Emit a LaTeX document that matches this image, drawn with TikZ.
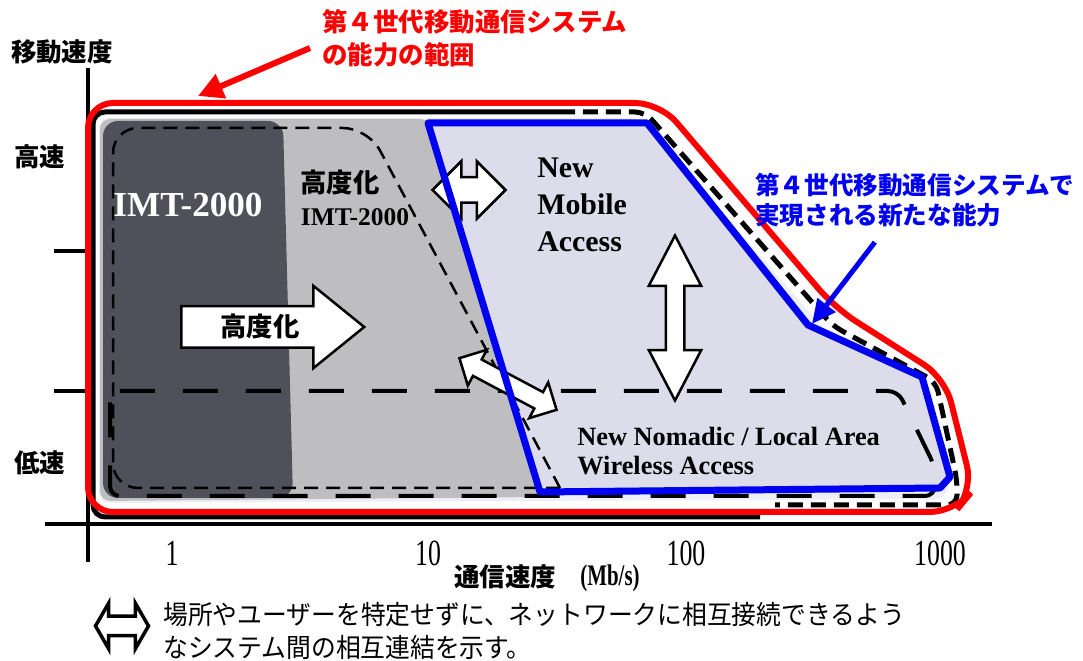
\documentclass[tikz,border=0pt]{standalone}
\usepackage{fontspec}
\setmainfont{Liberation Serif}
\newfontfamily\jp{Noto Sans CJK JP}
\newfontfamily\jpnarrow{Noto Sans CJK JP}[FakeStretch=0.94]
\newfontfamily\numfont{Liberation Serif}[FakeStretch=0.7]
\usetikzlibrary{arrows.meta,shapes.arrows,positioning,calc}
\definecolor{fgred}{RGB}{255,0,0}
\definecolor{fgblue}{RGB}{0,0,240}
\definecolor{paleback}{RGB}{238,238,246}
\definecolor{lavender}{RGB}{221,220,234}
\definecolor{midgray}{RGB}{190,190,192}
\definecolor{darkblock}{RGB}{80,80,90}

\tikzset{
  axisline/.style={line width=0.08cm},
  jptext/.style={font=\jp\bfseries\fontsize{14.5}{18.7}\selectfont, inner sep=0pt, align=left},
  sertext/.style={font=\bfseries\fontsize{17}{21}\selectfont, inner sep=0pt, align=left},
  numtext/.style={font=\numfont\fontsize{21}{24}\selectfont, inner sep=0pt},
  blockarrow/.style={draw, fill=white, line width=0.05cm, inner sep=0pt},
  outline/.style={line width=0.1cm},
  outdash/.style={line width=0.1cm, dash pattern=on 0.3cm off 0.16cm},
  nomdash/.style={line width=0.08cm, dash pattern=on 0.7cm off 0.56cm},
  imtdash/.style={line width=0.05cm, dash pattern=on 0.28cm off 0.16cm},
  redline/.style={fgred, line width=0.12cm},
  blueline/.style={fgblue, line width=0.14cm, line join=round},
}

\begin{document}
\begin{tikzpicture}[x=0.02cm, y=-0.02cm]
\useasboundingbox (0,0) rectangle (1083,661);

% backgrounds of the regions
\fill[paleback, rounded corners=0.2cm] (99,118) -- (640,118) -- (825,330) -- (930,385) -- (950,480) -- (945,499) -- (99,503) -- cycle;
\fill[midgray, rounded corners=0.2cm] (100,119) -- (430,119) -- (545,497) -- (100,501) -- cycle;
\fill[lavender] (428,123) -- (647,123) -- (808,325) -- (922,377) -- (950,477) -- (940,488) -- (540,492) -- cycle;
\fill[darkblock, rounded corners=0.3cm] (103,121) -- (283,121) -- (293,498) -- (103,498) -- cycle;

% axes
\draw[axisline] (88,68) -- (88,562);
\draw[axisline] (45,524) -- (992,524);
\draw[axisline] (54,251) -- (88,251);
\draw[axisline] (54,391) -- (88,391);

% dashed regions
\draw[imtdash, rounded corners=0.5cm] (560,488) -- (113,488) -- (113,128) -- (368,128) -- (560,488);
\draw[nomdash, rounded corners=0.2cm] (110,391) -- (898,391) -- (935,467) -- (935,496) -- (110,496) -- cycle;

% block arrows
\node[blockarrow, single arrow, single arrow head extend=0.41cm, single arrow tip angle=78,
  minimum height=3.66cm, text height=0.58cm, text depth=0.2cm, anchor=tail,
  font=\jp\bfseries\fontsize{15}{18}\selectfont] (advarrow) at (180,327) {高度化};
\node[blockarrow, double arrow, double arrow head extend=0.32cm,
  minimum height=1.46cm, text height=0.23cm, text depth=0.23cm] (hlink) at (469,190) {};
\node[blockarrow, double arrow, double arrow head extend=0.34cm, double arrow tip angle=55,
  minimum height=3.3cm, text height=0.16cm, text depth=0.16cm, rotate=90] (vlink) at (675,318) {};
\node[blockarrow, double arrow, double arrow head extend=0.22cm,
  minimum height=2.2cm, text height=0.16cm, text depth=0.16cm, rotate=-28] (dlink) at (508,384) {};

% outer outline and new capability
\draw[outline, rounded corners=0.24cm] (560,112) -- (93,112) -- (93,517) -- (760,517);
\draw[outdash, rounded corners=0.2cm] (560,112) -- (645,112) -- (833,326) -- (936,382) -- (957,480) -- (957,505) -- (775,505);
\draw[blueline] (428,123) -- (647,123) -- (808,325) -- (922,377) -- (950,477) -- (940,488) -- (540,492) -- cycle;
\draw[redline, rounded corners=0.5cm] (88,300) -- (88,103) -- (660,103) -- (835,308) -- (945,378) -- (973,490) -- (955,512) -- (88,512) -- cycle;

% texts in the chart
\node[sertext, white, font=\bfseries\fontsize{20}{24}\selectfont] (imt) at (188,205) {IMT-2000};
\node[jptext, font=\jp\bfseries\fontsize{15}{18}\selectfont] (advlbl) at (340,183) {高度化};
\node[sertext, font=\bfseries\fontsize{14.5}{18}\selectfont] (advimt) at (355,217) {IMT-2000};
\node[sertext, anchor=west] (mobile) at (537,205) {New\\Mobile\\Access};
\node[sertext, anchor=west, font=\bfseries\fontsize{15}{17}\selectfont] (nomadic) at (577,451) {New Nomadic / Local Area\\Wireless Access};

% callouts
\node[jptext, fgred, anchor=west] (redlbl) at (322,38) {第４世代移動通信システム\\の能力の範囲};
\coordinate (redtip) at (198,96);
\draw[redline, -{Triangle[length=0.5cm, width=0.5cm]}] ([shift={(-12,10)}]redlbl.west) -- (redtip);
\node[jptext, fgblue, anchor=west, font=\jp\bfseries\fontsize{14}{17}\selectfont] (bluelbl) at (755,200) {第４世代移動通信システムで\\実現される新たな能力};
\coordinate (bluetip) at (812,324);
\draw[fgblue, line width=0.1cm, -{Triangle[length=0.48cm, width=0.44cm]}] ([shift={(-40,15)}]bluelbl.south) -- (bluetip);

% axis labels
\node[jptext] (vaxis) at (62,52) {移動速度};
\node[jptext] (fast) at (40,157) {高速};
\node[jptext] (slow) at (40,463) {低速};
\node[numtext] (one) at (172,553) {1};
\node[numtext] (ten) at (428,553) {10};
\node[numtext] (hundred) at (686,553) {100};
\node[numtext] (thousand) at (940,553) {1000};
\node[jptext] (haxis) at (505,577) {通信速度};
\node[font=\numfont\bfseries\fontsize{17}{20}\selectfont, inner sep=0pt] (unit) at (610,578) {(Mb/s)};

% legend
\node[blockarrow, double arrow, double arrow head extend=0.26cm, double arrow tip angle=120,
  line width=0.07cm, minimum height=1.06cm, text height=0.16cm, text depth=0.16cm] (legarrow) at (122,626) {};
\node[font=\jpnarrow\fontsize{15}{19.3}\selectfont, inner sep=0pt, align=left, anchor=west] (legtext) at (163,631)
  {場所やユーザーを特定せずに、ネットワークに相互接続できるよう\\なシステム間の相互連結を示す。};
\end{tikzpicture}
\end{document}
